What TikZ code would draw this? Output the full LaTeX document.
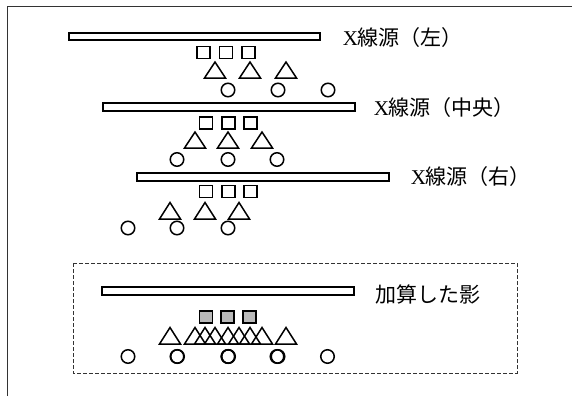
\documentclass[tikz,border=0pt]{standalone}
\usepackage{fontspec}
\newfontfamily\jpfont{Noto Sans CJK JP}
\newfontfamily\tmsfont{Liberation Serif}
\begin{document}
\begin{tikzpicture}[x=1pt,y=-1pt,line width=1.5pt,
  barbox/.style={draw=black,fill=white,line width=1.6pt},
  sq/.style={draw=black,fill=white,minimum width=13pt,minimum height=12pt,inner sep=0pt,line width=1.5pt},
  gsq/.style={draw=black,fill=gray!55,minimum width=13pt,minimum height=12pt,inner sep=0pt,line width=1.9pt},
  circ/.style={draw=black,circle,minimum size=13.5pt,inner sep=0pt,line width=1.5pt},
  lab/.style={anchor=west,inner sep=0pt,font=\fontsize{21}{23}\selectfont}]
\useasboundingbox (0,0) rectangle (572,396);
\draw[black!80,line width=1pt] (7,396) -- (7,7) -- (572,7);
% row 1
\draw[barbox] (69,33) rectangle (320,40);
\node[lab] (t1) at (342,38) {{\tmsfont X}{\jpfont 線源（左）}};
\foreach \x/\n in {203.5/a,226/b,248.5/c} \node[sq] (s1\n) at (\x,52.5) {};
\foreach \x in {215,250,286} \draw (\x-10.5,78) -- (\x,62) -- (\x+10.5,78) -- cycle;
\foreach \x/\n in {228/a,278/b,328/c} \node[circ] (c1\n) at (\x,90) {};
% row 2
\draw[barbox] (103,103) rectangle (355,111);
\node[lab] (t2) at (373,108) {{\tmsfont X}{\jpfont 線源（中央）}};
\foreach \x/\n in {206/a,228.5/b,250.5/c} \node[sq] (s2\n) at (\x,123) {};
\foreach \x in {195,228,262} \draw (\x-10.5,148) -- (\x,132) -- (\x+10.5,148) -- cycle;
\foreach \x/\n in {177/a,228/b,277/c} \node[circ] (c2\n) at (\x,159.5) {};
% row 3
\draw[barbox] (137,173) rectangle (389,181);
\node[lab] (t3) at (410,177) {{\tmsfont X}{\jpfont 線源（右）}};
\foreach \x/\n in {206/a,228.5/b,250.5/c} \node[sq] (s3\n) at (\x,191.5) {};
\foreach \x in {170,205,239} \draw (\x-10.5,219) -- (\x,202.5) -- (\x+10.5,219) -- cycle;
\foreach \x/\n in {128/a,177/b,228/c} \node[circ] (c3\n) at (\x,228) {};
% row 4 (sum)
\draw[black!80,line width=1pt,dash pattern=on 4pt off 2pt] (73,263) rectangle (517,373);
\draw[barbox] (102,287) rectangle (354,295);
\node[lab] (t4) at (375,294) {\jpfont 加算した影};
\foreach \x/\n in {206/a,227.5/b,249.5/c} \node[gsq] (s4\n) at (\x,317) {};
\foreach \x in {170,195,205,215,228,239,250,262,286} \draw (\x-10.5,344) -- (\x,327.5) -- (\x+10.5,344) -- cycle;
\foreach \x/\n in {128/a,177/b,177.5/c,228/d,228.5/e,228/f,277/g,278/h,327.5/i} \node[circ] (c4\n) at (\x,356.5) {};
\end{tikzpicture}
\end{document}
